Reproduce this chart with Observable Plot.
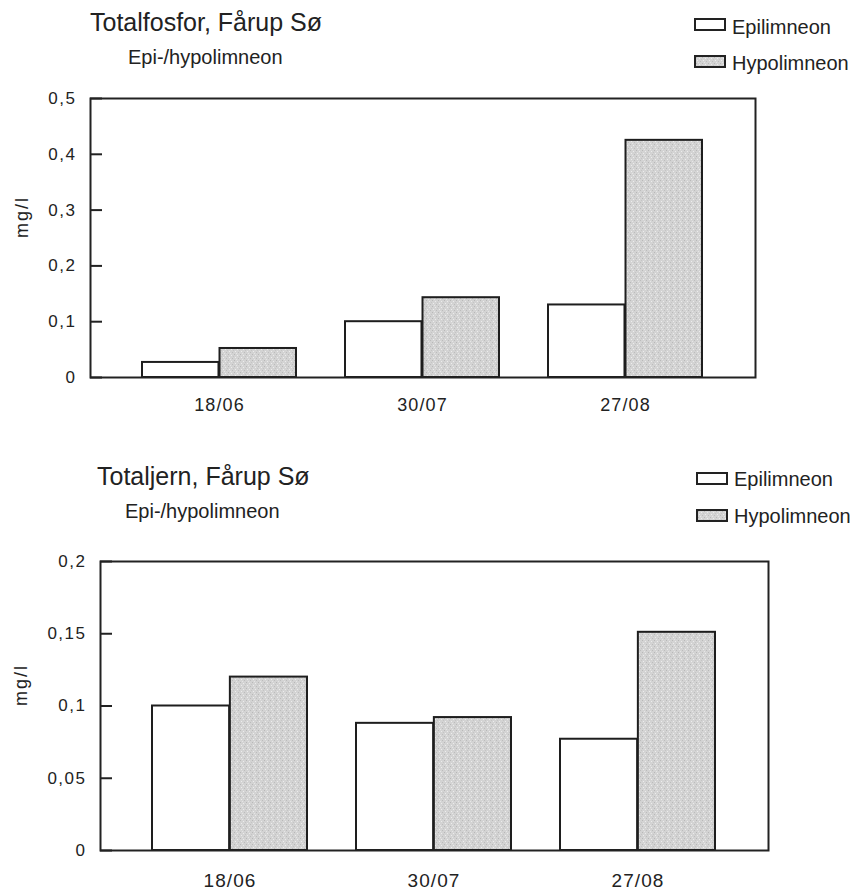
<!DOCTYPE html>
<html>
<head>
<meta charset="utf-8">
<script src="https://cdn.jsdelivr.net/npm/d3@7"></script>
<script src="https://cdn.jsdelivr.net/npm/@observablehq/plot@0.6"></script>
<style>
  body { margin: 0; background: #fff; }
  #page { position: relative; width: 858px; height: 891px;
          font-family: "Liberation Sans", Arial, sans-serif; color: #222; }
  .abs { position: absolute; white-space: nowrap; line-height: 1; }
  .title { font-size: 25px; }
  .sub { font-size: 20px; }
  .leg { font-size: 20px; }
  .sw { position: absolute; box-sizing: border-box; width: 32px; height: 13px; border: 2px solid #222; }
  .sw svg { position: absolute; left: 0; top: 0; }
  .wrap { position: absolute; left: 0; width: 858px; }
  .wrap svg [aria-label="y-axis tick label"] { font-size: 17px !important; letter-spacing: 1.5px; }
  .wrap svg [aria-label="x-axis tick label"] { letter-spacing: 1.1px; }
  .wrap svg .ylab, .wrap svg .ylab text { font-size: 18px !important; letter-spacing: 2px; }
  #err { position: absolute; left: 10px; top: 200px; color: red; font-size: 12px; white-space: pre-wrap; width: 800px; }
</style>
</head>
<body>
<svg width="0" height="0" style="position:absolute">
  <defs>
    <pattern id="speckle" width="6" height="6" patternUnits="userSpaceOnUse">
      <rect width="6" height="6" fill="#d3d3d3"/>
      <rect x="0" y="0" width="1" height="1" fill="#b8b8b8"/>
      <rect x="3" y="1" width="1" height="1" fill="#ececec"/>
      <rect x="1" y="3" width="1" height="1" fill="#ededed"/>
      <rect x="4" y="4" width="1" height="1" fill="#bcbcbc"/>
      <rect x="5" y="2" width="1" height="1" fill="#c4c4c4"/>
      <rect x="2" y="5" width="1" height="1" fill="#e6e6e6"/>
    </pattern>
  </defs>
</svg>
<div id="page"></div>
<script>
// ---- data ----
const dates = ["18/06", "30/07", "27/08"];
const seriesNames = ["Epilimneon", "Hypolimneon"];
const seriesFills = ["#ffffff", "url(#speckle)"];

const fosforTitle = "Totalfosfor, Fårup Sø";
const fosforSubtitle = "Epi-/hypolimneon";
const fosforEpi = [0.027, 0.1, 0.13];
const fosforHypo = [0.052, 0.143, 0.425];
const fosforTicks = [0, 0.1, 0.2, 0.3, 0.4, 0.5];

const jernTitle = "Totaljern, Fårup Sø";
const jernSubtitle = "Epi-/hypolimneon";
const jernEpi = [0.1, 0.088, 0.077];
const jernHypo = [0.12, 0.092, 0.151];
const jernTicks = [0, 0.05, 0.1, 0.15, 0.2];

const yLabel = "mg/l";

// ---- drawing ----
const page = document.getElementById("page");
const W = 858;
const fmt = d => String(d).replace(".", ",");
const PADI = 0.24, PADO = 0.25;
const SVGNS = "http://www.w3.org/2000/svg";

function addText(cls, text, left, top) {
  const el = document.createElement("div");
  el.className = "abs " + cls;
  el.textContent = text;
  el.style.left = left + "px";
  el.style.top = top + "px";
  page.appendChild(el);
}

function addLegend(x, tops, swTops) {
  seriesNames.forEach((name, i) => {
    const sw = document.createElement("div");
    sw.className = "sw";
    sw.style.left = x + "px";
    sw.style.top = swTops[i] + "px";
    const s = document.createElementNS(SVGNS, "svg");
    s.setAttribute("width", "28"); s.setAttribute("height", "9");
    const r = document.createElementNS(SVGNS, "rect");
    r.setAttribute("width", "28"); r.setAttribute("height", "9");
    r.setAttribute("fill", seriesFills[i]);
    s.appendChild(r);
    sw.appendChild(s);
    page.appendChild(sw);
    addText("leg", name, x + 38, tops[i]);
  });
}

function makeChart({top, height, mt, mb, ml, mr, epi, hypo, ticks, xPad, xFont, labelDx}) {
  const rows = dates.map((d, i) => ({date: d, epi: epi[i], hypo: hypo[i]}));
  const bw = d3.scaleBand().domain(dates).range([ml, W - mr])
    .paddingInner(PADI).paddingOuter(PADO).bandwidth();
  const half = bw / 2;
  const wrap = document.createElement("div");
  wrap.className = "wrap";
  wrap.style.top = top + "px";
  page.appendChild(wrap);
  try {
    const svg = Plot.plot({
      width: W,
      height,
      marginTop: mt, marginBottom: mb, marginLeft: ml, marginRight: mr,
      style: {fontFamily: "Liberation Sans, Arial, sans-serif", color: "#222", background: "transparent", overflow: "visible"},
      x: {domain: dates, paddingInner: PADI, paddingOuter: PADO},
      y: {domain: [ticks[0], ticks[ticks.length - 1]]},
      marks: [
        Plot.barY(rows, {x: "date", y: "epi", fill: seriesFills[0], stroke: "#1e1e1e", strokeWidth: 2, insetRight: half}),
        Plot.barY(rows, {x: "date", y: "hypo", fill: seriesFills[1], stroke: "#1e1e1e", strokeWidth: 2, insetLeft: half}),
        Plot.frame({stroke: "#222", strokeWidth: 2}),
        Plot.axisY(ticks, {anchor: "left", tickSize: 12, dx: 12, tickPadding: 14, tickFormat: fmt,
          fontSize: 17, stroke: "#222", strokeWidth: 2, fill: "#222", label: null}),
        Plot.text([yLabel], {frameAnchor: "left", rotate: -90, dx: labelDx, fontSize: 18, fill: "#222", className: "ylab"}),
        Plot.axisX({anchor: "bottom", tickSize: 0, tickPadding: xPad, fontSize: xFont, fill: "#222", label: null})
      ]
    });
    wrap.appendChild(svg);
  } catch (e) {
    const el = document.createElement("div");
    el.id = "err";
    el.textContent = String(e && e.stack || e);
    page.appendChild(el);
  }
}

// top chart
makeChart({top: 0, height: 430, mt: 98, mb: 53, ml: 90, mr: 103,
  epi: fosforEpi, hypo: fosforHypo, ticks: fosforTicks, xPad: 21, xFont: 18, labelDx: -68});
addText("title", fosforTitle, 90, 10);
addText("sub", fosforSubtitle, 128, 47);
addLegend(694, [17, 52.7], [17.5, 54.5]);

// bottom chart
makeChart({top: 430, height: 461, mt: 131, mb: 41, ml: 100, mr: 90,
  epi: jernEpi, hypo: jernHypo, ticks: jernTicks, xPad: 23, xFont: 19, labelDx: -79});
addText("title", jernTitle, 97, 463.6);
addText("sub", jernSubtitle, 125, 500.5);
addLegend(696, [469.2, 505.7], [471.5, 509]);
</script>
</body>
</html>
